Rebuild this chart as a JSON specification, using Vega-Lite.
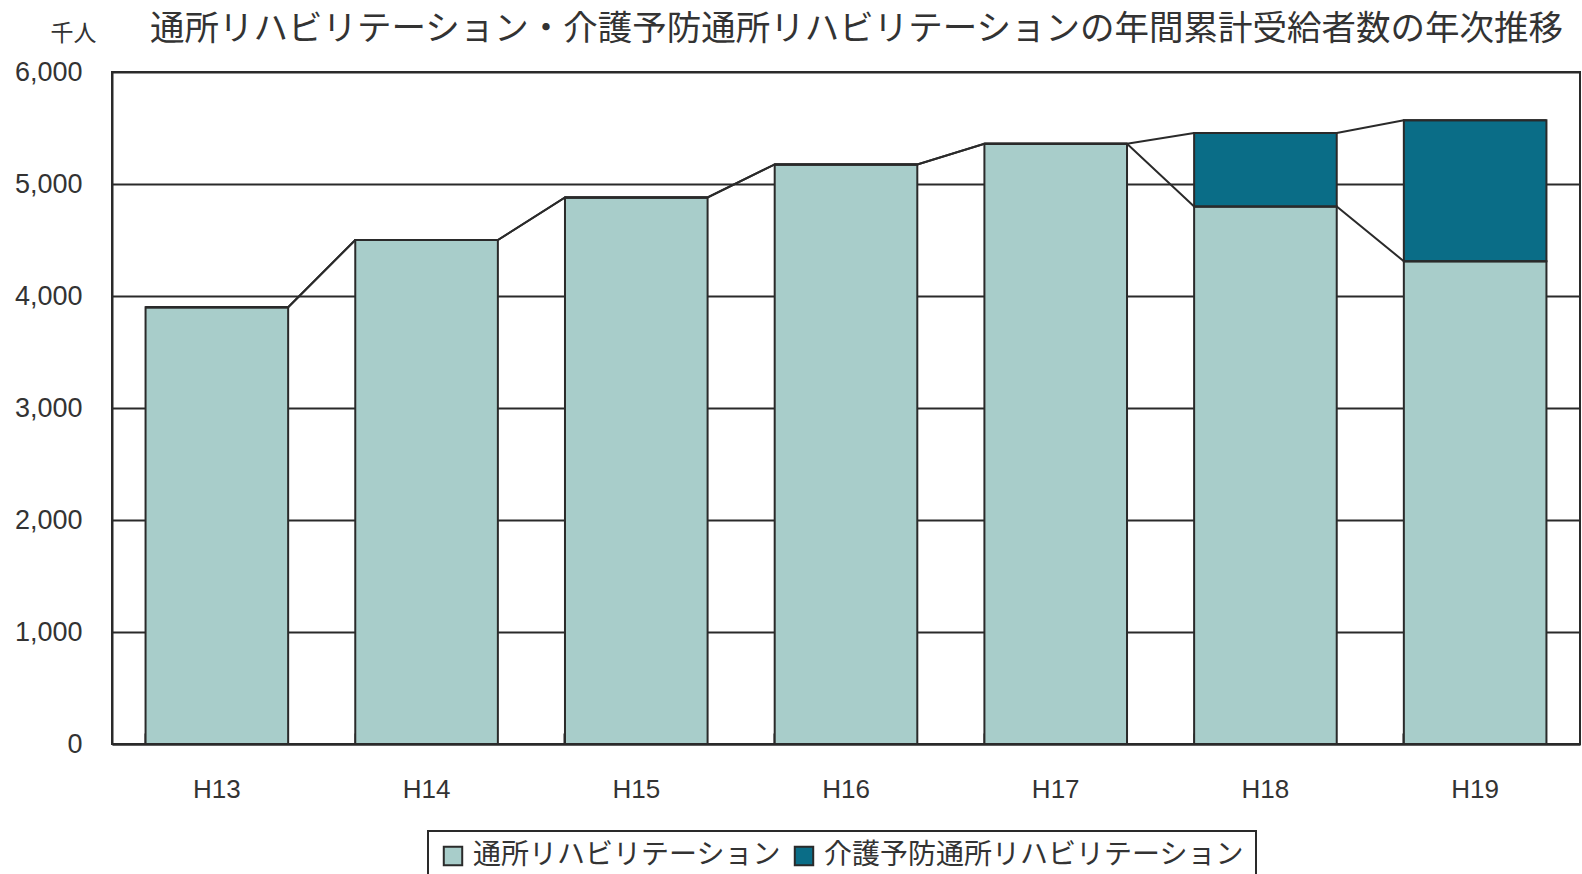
{
  "$schema": "https://vega.github.io/schema/vega-lite/v6.json",
  "width": 1468,
  "height": 672,
  "autosize": {"type": "none"},
  "padding": {"left": 112, "top": 72, "right": 2, "bottom": 130},
  "background": "white",
  "config": {"view": {"stroke": "#2a2a2a", "strokeWidth": 2}},
  "title": {
    "text": "通所リハビリテーション・介護予防通所リハビリテーションの年間累計受給者数の年次推移",
    "fontSize": 34.5,
    "font": "Noto Sans CJK JP",
    "fontWeight": "normal",
    "color": "#333",
    "anchor": "start",
    "frame": "group",
    "dx": 38,
    "offset": -25
  },
  "data": {
    "values": [
      {"year": "H13", "series": "通所リハビリテーション", "value": 3900},
      {"year": "H14", "series": "通所リハビリテーション", "value": 4500},
      {"year": "H15", "series": "通所リハビリテーション", "value": 4880},
      {"year": "H16", "series": "通所リハビリテーション", "value": 5175},
      {"year": "H17", "series": "通所リハビリテーション", "value": 5360},
      {"year": "H18", "series": "通所リハビリテーション", "value": 4800},
      {"year": "H19", "series": "通所リハビリテーション", "value": 4310},
      {"year": "H13", "series": "介護予防通所リハビリテーション", "value": 0},
      {"year": "H14", "series": "介護予防通所リハビリテーション", "value": 0},
      {"year": "H15", "series": "介護予防通所リハビリテーション", "value": 0},
      {"year": "H16", "series": "介護予防通所リハビリテーション", "value": 0},
      {"year": "H17", "series": "介護予防通所リハビリテーション", "value": 0},
      {"year": "H18", "series": "介護予防通所リハビリテーション", "value": 655},
      {"year": "H19", "series": "介護予防通所リハビリテーション", "value": 1260}
    ]
  },
  "transform": [
    {"stack": "value", "groupby": ["year"], "sort": [{"field": "series", "order": "descending"}], "as": ["base", "L"]},
    {"stack": "value", "groupby": ["year"], "sort": [{"field": "series", "order": "descending"}], "as": ["base2", "R"]}
  ],
  "resolve": {"scale": {"xOffset": "independent"}},
  "layer": [
    {
      "mark": {"type": "bar", "stroke": "#2a2a2a", "strokeWidth": 2},
      "encoding": {
        "x": {
          "field": "year",
          "type": "ordinal",
          "scale": {"paddingInner": 0.32, "paddingOuter": 0.16},
          "axis": {
            "title": null,
            "labelAngle": 0,
            "labelFontSize": 26,
            "labelFont": "Liberation Sans",
            "labelColor": "#333",
            "tickSize": -11,
            "tickColor": "#2a2a2a",
            "tickWidth": 2,
            "bandPosition": 0,
            "domainColor": "#2a2a2a",
            "domainWidth": 2,
            "grid": false,
            "labelPadding": 43
          }
        },
        "y": {
          "field": "L",
          "type": "quantitative",
          "scale": {"domain": [0, 6000]},
          "axis": {
            "title": "千人",
            "titleAngle": 0,
            "titleAlign": "left",
            "titleBaseline": "top",
            "titleX": -62,
            "titleY": -50,
            "titleFontSize": 23,
            "titleFont": "Noto Sans CJK JP",
            "titleFontWeight": "normal",
            "titleColor": "#333",
            "values": [0, 1000, 2000, 3000, 4000, 5000, 6000],
            "format": ",.0f",
            "labelFontSize": 27,
            "labelFont": "Liberation Sans",
            "labelColor": "#333",
            "labelPadding": 30,
            "ticks": false,
            "domainColor": "#2a2a2a",
            "domainWidth": 2,
            "gridColor": "#2a2a2a",
            "gridWidth": 2,
            "gridOpacity": 1
          }
        },
        "y2": {"field": "base"},
        "color": {
          "field": "series",
          "type": "nominal",
          "scale": {
            "domain": ["通所リハビリテーション", "介護予防通所リハビリテーション"],
            "range": ["#a8cdca", "#0a6d87"]
          },
          "legend": {
            "orient": "none",
            "legendX": 316,
            "legendY": 759,
            "direction": "horizontal",
            "title": null,
            "symbolType": "square",
            "symbolSize": 340,
            "symbolStrokeColor": "#2a2a2a",
            "symbolStrokeWidth": 2,
            "labelFontSize": 28,
            "labelFont": "Noto Sans CJK JP",
            "labelColor": "#333",
            "labelLimit": 1000,
            "labelOffset": 6,
            "columnPadding": 8,
            "strokeColor": "#2a2a2a",
            "padding": 11,
            "fillColor": "white",
            "encode": {"legend": {"update": {"strokeWidth": {"value": 2}}}}
          }
        }
      }
    },
    {
      "transform": [{"fold": ["L", "R"], "as": ["edge", "top"]}],
      "mark": {"type": "line", "color": "#2a2a2a", "strokeWidth": 2},
      "encoding": {
        "x": {"field": "year", "type": "ordinal"},
        "xOffset": {"field": "edge", "type": "nominal", "scale": {"type": "point", "padding": 0, "domain": ["L", "R"]}},
        "y": {"field": "top", "type": "quantitative"},
        "detail": {"field": "series"},
        "order": {"value": null}
      }
    }
  ]
}
